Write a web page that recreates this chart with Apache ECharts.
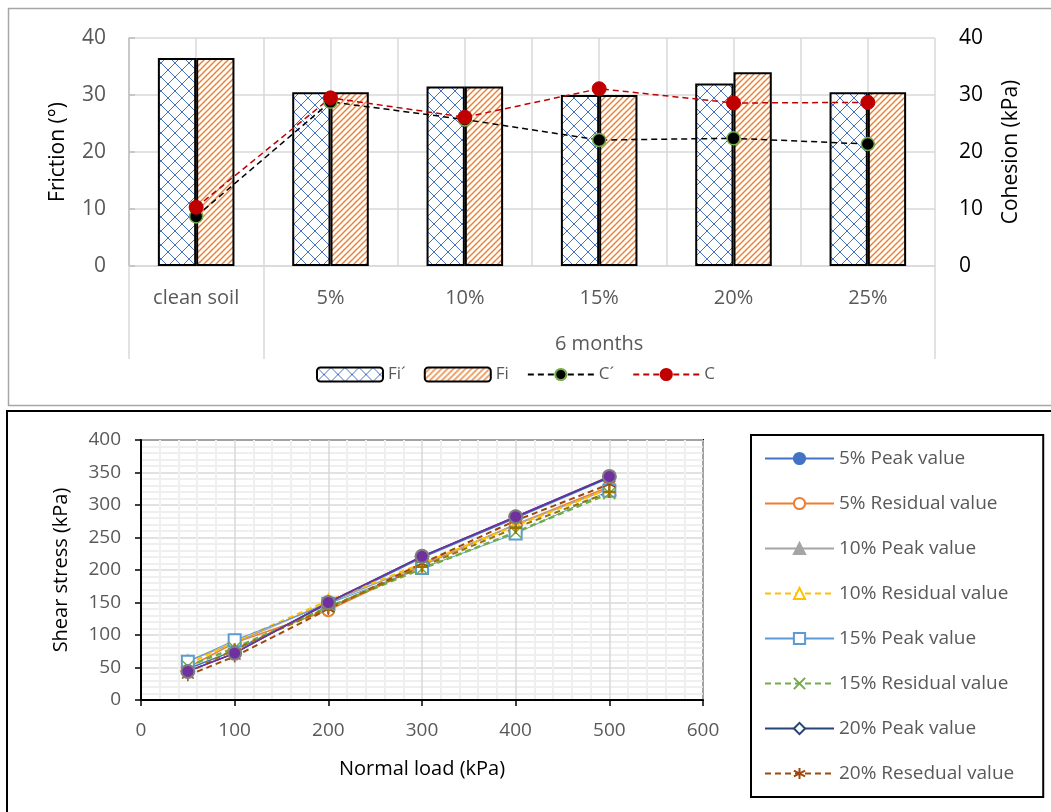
<!DOCTYPE html>
<html>
<head>
<meta charset="utf-8">
<script src="https://cdn.jsdelivr.net/npm/echarts@6/dist/echarts.min.js"></script>
<style>
  html, body { margin: 0; padding: 0; background: #fff; }
  #chart { width: 1051px; height: 812px; }
</style>
</head>
<body>
<div id="chart"></div>
<script>
// top chart: friction / cohesion, 6 months
const categories = ['clean soil', '5%', '10%', '15%', '20%', '25%'];
const fiPrime = [36.5, 30.5, 31.5, 30, 32, 30.5];
const fi = [36.5, 30.5, 31.5, 30, 34, 30.5];
const cPrime = [8.7, 28.8, 25.7, 22.1, 22.4, 21.4];
const cTotal = [10.3, 29.5, 26.1, 31.1, 28.6, 28.7];
const groupLabel = '6 months';

// bottom chart: shear stress vs normal load
const normalLoad = [50, 100, 200, 300, 400, 500];
const peak5 = [48, 76, 148, 219, 280, 342];
const resid5 = [50, 88, 138, 207, 270, 328];
const peak10 = [60, 88, 150, 208, 270, 325];
const resid10 = [55, 90, 153, 210, 268, 325];
const peak15 = [59, 92, 148, 203, 256, 322];
const resid15 = [52, 80, 143, 202, 258, 318];
const peak20 = [44, 72, 150, 221, 282, 343];
const resid20 = [38, 67, 140, 210, 276, 332];
const extraPeak = [44, 72, 150, 221, 282, 344];
const extraResid = [42, 78, 142, 205, 265, 320];

const FONT = '"Open Sans", "Noto Sans", sans-serif';
const GRAY_TXT = '#595959';

function diamondPattern() {
  const c = document.createElement('canvas');
  c.width = 14; c.height = 14;
  const g = c.getContext('2d');
  g.fillStyle = '#fff';
  g.fillRect(0, 0, 14, 14);
  g.strokeStyle = '#4472C4';
  g.lineWidth = 1;
  g.beginPath();
  g.moveTo(0, 0); g.lineTo(14, 14);
  g.moveTo(14, 0); g.lineTo(0, 14);
  g.stroke();
  return c;
}

function hatchPattern() {
  const c = document.createElement('canvas');
  c.width = 6; c.height = 6;
  const g = c.getContext('2d');
  g.fillStyle = '#fff';
  g.fillRect(0, 0, 6, 6);
  g.strokeStyle = '#ED7D31';
  g.lineWidth = 1.4;
  g.beginPath();
  g.moveTo(0, 6); g.lineTo(6, 0);
  g.moveTo(-1, 1); g.lineTo(1, -1);
  g.moveTo(5, 7); g.lineTo(7, 5);
  g.stroke();
  return c;
}

const pts = arr => normalLoad.map((x, i) => [x, arr[i]]);

function shearLine(name, arr, color, symbol, opts) {
  opts = opts || {};
  return {
    name: name,
    type: 'line',
    xAxisIndex: 3,
    yAxisIndex: 2,
    data: pts(arr),
    symbol: symbol,
    symbolSize: opts.size || 12,
    lineStyle: { color: color, width: opts.width || 1.5, type: opts.dash ? [6, 4] : 'solid' },
    itemStyle: {
      color: opts.fill || color,
      borderColor: opts.border || color,
      borderWidth: opts.borderWidth || 1.5
    }
  };
}

let myChart = echarts.init(document.getElementById('chart'));

let option = {
  animation: false,
  textStyle: { fontFamily: FONT },
  graphic: [
    { type: 'rect', shape: { x: 8.5, y: 8.5, width: 1060, height: 397 },
      style: { fill: 'none', stroke: '#a6a6a6', lineWidth: 1.5 }, silent: true },
    { type: 'rect', shape: { x: 7, y: 411, width: 1060, height: 420 },
      style: { fill: 'none', stroke: '#000', lineWidth: 2 }, silent: true }
  ],
  legend: [
    {
      data: ['Fi´', 'Fi', 'C´', 'C'],
      left: 311,
      top: 361,
      itemWidth: 66,
      itemHeight: 14,
      itemGap: 18,
      textStyle: { fontSize: 17, color: GRAY_TXT, fontFamily: FONT }
    },
    {
      data: ['5% Peak value', '5% Residual value', '10% Peak value', '10% Residual value',
        '15% Peak value', '15% Residual value', '20% Peak value', '20% Resedual value'],
      orient: 'vertical',
      left: 751,
      top: 435,
      itemWidth: 69,
      itemHeight: 14,
      itemGap: 26,
      padding: [14, 29, 14, 13],
      borderColor: '#000',
      borderWidth: 2,
      textStyle: { fontSize: 19, color: GRAY_TXT, fontFamily: FONT }
    }
  ],
  grid: [
    { left: 129, right: 116, top: 38, height: 228 },
    { left: 141, right: 348, top: 440, height: 260, show: true, borderColor: '#000', borderWidth: 2 }
  ],
  xAxis: [
    {
      gridIndex: 0,
      type: 'category',
      data: categories,
      axisLine: { show: true, lineStyle: { color: '#d9d9d9', width: 1.5 } },
      axisTick: { show: false },
      axisLabel: { color: GRAY_TXT, fontSize: 20, margin: 22 },
      splitLine: { show: false }
    },
    {
      // group separators and "6 months" label
      gridIndex: 0,
      type: 'value',
      min: 0,
      max: 6,
      interval: 1,
      position: 'bottom',
      axisLine: { show: false },
      axisTick: { show: true, customValues: [0, 1, 6], length: 93, lineStyle: { color: '#d9d9d9', width: 1.5 } },
      axisLabel: { customValues: [3.5], formatter: () => groupLabel, color: GRAY_TXT, fontSize: 20, margin: 68 },
      splitLine: { show: false }
    },
    {
      // vertical gridlines
      gridIndex: 0,
      type: 'value',
      min: 0,
      max: 6,
      interval: 0.5,
      show: true,
      axisLine: { show: false },
      axisTick: { show: false },
      axisLabel: { show: false },
      splitLine: { show: true, lineStyle: { color: '#d9d9d9', width: 1.5 } }
    },
    {
      gridIndex: 1,
      type: 'value',
      min: 0,
      max: 600,
      interval: 100,
      name: 'Normal load (kPa)',
      nameLocation: 'middle',
      nameGap: 59,
      nameTextStyle: { fontSize: 20, color: '#000' },
      axisLine: { show: true, lineStyle: { color: '#000', width: 2 } },
      axisTick: { show: true, length: 6, lineStyle: { color: '#000', width: 1.5 } },
      axisLabel: { color: GRAY_TXT, fontSize: 19, margin: 21 },
      splitLine: { show: true, lineStyle: { color: '#d9d9d9', width: 1.5 } },
      minorTick: { show: false, splitNumber: 5 },
      minorSplitLine: { show: true, lineStyle: { color: '#efefef', width: 2 } }
    }
  ],
  yAxis: [
    {
      gridIndex: 0,
      type: 'value',
      min: 0,
      max: 40,
      interval: 10,
      name: 'Friction (°)',
      nameLocation: 'middle',
      nameGap: 60,
      nameTextStyle: { fontSize: 21, color: '#000' },
      axisLine: { show: false },
      axisTick: { show: false },
      axisLabel: { color: GRAY_TXT, fontSize: 21, margin: 23 },
      splitLine: { show: true, lineStyle: { color: '#d9d9d9', width: 1.5 } }
    },
    {
      gridIndex: 0,
      type: 'value',
      min: 0,
      max: 40,
      interval: 10,
      position: 'right',
      name: 'Cohesion (kPa)',
      nameLocation: 'middle',
      nameGap: 66,
      nameTextStyle: { fontSize: 21, color: '#000' },
      axisLine: { show: true, lineStyle: { color: '#bfbfbf', width: 1.5 } },
      axisTick: { show: true, length: 6, lineStyle: { color: '#bfbfbf', width: 1.5 } },
      axisLabel: { color: '#000', fontSize: 21, margin: 24 },
      splitLine: { show: false }
    },
    {
      gridIndex: 1,
      type: 'value',
      min: 0,
      max: 400,
      interval: 50,
      name: 'Shear stress (kPa)',
      nameLocation: 'middle',
      nameGap: 70,
      nameTextStyle: { fontSize: 20, color: '#000' },
      axisLine: { show: true, lineStyle: { color: '#000', width: 2 } },
      axisTick: { show: true, length: 6, lineStyle: { color: '#000', width: 1.5 } },
      axisLabel: { color: GRAY_TXT, fontSize: 19, margin: 20 },
      splitLine: { show: true, lineStyle: { color: '#d9d9d9', width: 1.5 } },
      minorTick: { show: false, splitNumber: 5 },
      minorSplitLine: { show: true, lineStyle: { color: '#efefef', width: 2 } }
    }
  ],
  series: [
    {
      name: 'Fi´',
      type: 'bar',
      xAxisIndex: 0,
      yAxisIndex: 0,
      data: fiPrime,
      barGap: '0%',
      barCategoryGap: '43%',
      itemStyle: { color: { image: diamondPattern(), repeat: 'repeat' }, borderColor: '#000', borderWidth: 2 }
    },
    {
      name: 'Fi',
      type: 'bar',
      xAxisIndex: 0,
      yAxisIndex: 0,
      data: fi,
      barGap: '0%',
      barCategoryGap: '43%',
      itemStyle: { color: { image: hatchPattern(), repeat: 'repeat' }, borderColor: '#000', borderWidth: 2 }
    },
    {
      name: 'C´',
      type: 'line',
      xAxisIndex: 0,
      yAxisIndex: 1,
      data: cPrime,
      symbol: 'circle',
      symbolSize: 13,
      lineStyle: { color: '#000', width: 1.5, type: [6, 4] },
      itemStyle: { color: '#000', borderColor: '#70AD47', borderWidth: 1.5 }
    },
    {
      name: 'C',
      type: 'line',
      xAxisIndex: 0,
      yAxisIndex: 1,
      data: cTotal,
      symbol: 'circle',
      symbolSize: 14,
      lineStyle: { color: '#C00000', width: 1.5, type: [6, 4] },
      itemStyle: { color: '#C00000', borderColor: '#C00000', borderWidth: 1 }
    },
    shearLine('5% Peak value', peak5, '#4472C4', 'circle'),
    shearLine('5% Residual value', resid5, '#ED7D31', 'emptyCircle'),
    shearLine('10% Peak value', peak10, '#A5A5A5', 'triangle'),
    shearLine('10% Residual value', resid10, '#FFC000', 'emptyTriangle', { dash: true, width: 2 }),
    shearLine('15% Peak value', peak15, '#5B9BD5', 'emptyRect', { width: 1 }),
    shearLine('15% Residual value', resid15, '#70AD47', 'path://M0,0L10,10M10,0L0,10', { dash: true, width: 2.5 }),
    shearLine('20% Peak value', peak20, '#264478', 'emptyDiamond'),
    shearLine('20% Resedual value', resid20, '#9E480E', 'path://M5,0L5,10M0,2.5L10,7.5M0,7.5L10,2.5', { dash: true, width: 2 }),
    shearLine('25% Residual value', extraResid, '#997300', 'path://M5,0L5,10M0,5L10,5', { dash: true, width: 2, borderWidth: 2.5 }),
    shearLine('25% Peak value', extraPeak, '#7030A0', 'circle', { size: 13, border: '#7F7F7F', borderWidth: 2 })
  ]
};

option && myChart.setOption(option);
</script>
</body>
</html>
